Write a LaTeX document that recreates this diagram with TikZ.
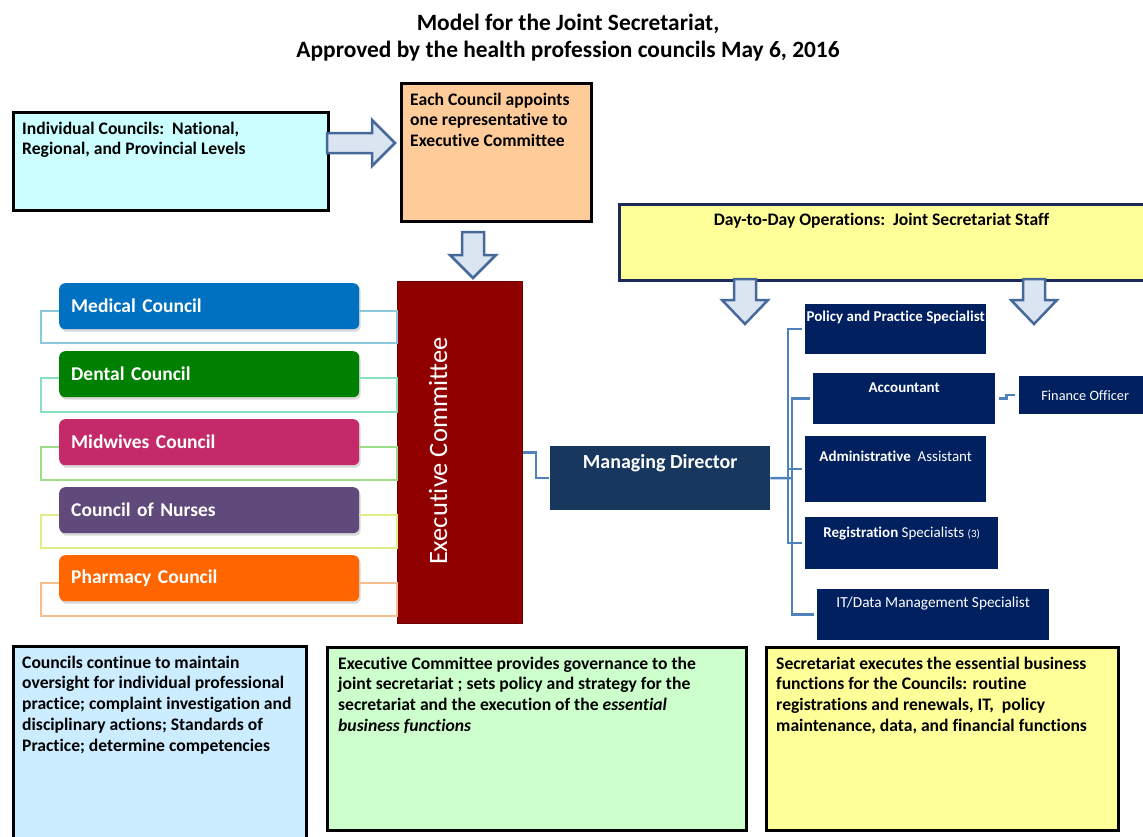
\documentclass[tikz,border=0pt]{standalone}
\usepackage{fontspec}
\setmainfont{Carlito}[RawFeature={-liga}]
\usetikzlibrary{shadows}
\definecolor{icfill}{HTML}{CCFFFF}
\definecolor{orfill}{HTML}{FFCC99}
\definecolor{exred}{HTML}{900000}
\definecolor{cmed}{HTML}{0070C0}
\definecolor{cdent}{HTML}{008000}
\definecolor{cmid}{HTML}{C42A69}
\definecolor{cnur}{HTML}{604A7B}
\definecolor{cpha}{HTML}{FF6600}
\definecolor{lmed}{HTML}{8CC8DA}
\definecolor{ldent}{HTML}{8ADFBC}
\definecolor{lmid}{HTML}{9ADF88}
\definecolor{lnur}{HTML}{E0EE88}
\definecolor{lpha}{HTML}{F4BE8E}
\definecolor{mdblue}{HTML}{17375E}
\definecolor{navy}{HTML}{002060}
\definecolor{yel}{HTML}{FFFF99}
\definecolor{yelline}{HTML}{1C2A5A}
\definecolor{blfill}{HTML}{CCECFF}
\definecolor{grfill}{HTML}{CCFFCC}
\definecolor{arrfill}{HTML}{DBE5F1}
\definecolor{arrline}{HTML}{46699A}
\definecolor{conn}{HTML}{4F81BD}
\begin{document}
\begin{tikzpicture}[x=1pt,y=-1pt,
  blk/.style={draw=black, line width=2.5pt, inner sep=0, anchor=north west},
  txt/.style={font=\fontsize{17.6}{20.9}\selectfont\bfseries, align=left, anchor=north west, inner xsep=10pt, inner ysep=10.5pt},
  cbox/.style={rounded corners=6pt, minimum width=300, minimum height=46, inner xsep=12pt, text width=276pt, align=left, text=white, font=\fontsize{19.5}{23}\selectfont\bfseries, anchor=north west, drop shadow={shadow xshift=1.5pt, shadow yshift=-2.5pt, opacity=0.3}},
  clink/.style={line width=1.3pt},
  staff/.style={fill=navy, anchor=north west, inner sep=0},
  stxt/.style={anchor=north, text=white, font=\fontsize{15}{17}\selectfont, inner sep=0},
  barrow/.style={fill=arrfill, draw=arrline, line width=2.5pt, line join=miter},
  conline/.style={draw=conn, line width=2.5pt},
]
\useasboundingbox (0,0) rectangle (1143,836);
\fill[white] (0,0) rectangle (1143,836);

% title
\node[font=\fontsize{23.4}{27}\selectfont\bfseries, align=center] (title) at (568,38)
  {Model for the Joint Secretariat,\\Approved by the health profession councils May 6, 2016};

% top boxes
\node[blk, fill=icfill, minimum width=315, minimum height=98,
  label={[txt]north west:{Individual Councils:\ \ National,\\Regional, and Provincial Levels}}] (ic) at (12,111) {};
\node[blk, fill=orfill, minimum width=190, minimum height=138,
  label={[txt]north west:{Each Council appoints\\one representative to\\Executive Committee}}] (app) at (400,82) {};

% block arrows
\draw[barrow] (327,133) -- (372,133) -- (372,120) -- (395,143) -- (372,166) -- (372,153) -- (327,153) -- cycle;
\draw[barrow] (462,232) -- (484,232) -- (484,255) -- (496,255) -- (473,278) -- (450,255) -- (462,255) -- cycle;

% executive committee
\node[fill=exred, draw=exred!75!black, line width=1pt, minimum width=125, minimum height=342, anchor=north west, inner sep=0] (exec) at (397,281) {};
\node[rotate=90, font=\fontsize{26.5}{30}\selectfont, text=white] (exect) at (438,451) {Executive Committee};

% councils
\node[cbox, fill=cmed] (med) at (59,283) {Medical Council};
\node[cbox, fill=cdent] (dent) at (59,351) {Dental Council};
\node[cbox, fill=cmid] (mid) at (59,419) {Midwives Council};
\node[cbox, fill=cnur] (nur) at (59,487) {Council of Nurses};
\node[cbox, fill=cpha] (pha) at (59,555) {Pharmacy Council};

\draw[clink, lmed] (med.west |- 0,311) -- (41,311) -- (41,343) -- (exec.west |- 0,343) -- (exec.west |- 0,311) -- (med.east |- 0,311);
\draw[clink, ldent] (dent.west |- 0,378) -- (41,378) -- (41,412) -- (exec.west |- 0,412) -- (exec.west |- 0,378) -- (dent.east |- 0,378);
\draw[clink, lmid] (mid.west |- 0,447) -- (41,447) -- (41,480) -- (exec.west |- 0,480) -- (exec.west |- 0,447) -- (mid.east |- 0,447);
\draw[clink, lnur] (nur.west |- 0,515) -- (41,515) -- (41,548) -- (exec.west |- 0,548) -- (exec.west |- 0,515) -- (nur.east |- 0,515);
\draw[clink, lpha] (pha.west |- 0,583) -- (41,583) -- (41,616) -- (exec.west |- 0,616) -- (exec.west |- 0,583) -- (pha.east |- 0,583);

% managing director
\node[fill=mdblue, minimum width=220, minimum height=64, anchor=north west, inner sep=0,
  label={[anchor=north, yshift=-5pt, text=white, font=\fontsize{20}{24}\selectfont\bfseries]north:Managing Director}] (md) at (550,446) {};
\draw[conline] (exec.east) -- ++(13,0) |- ([xshift=-1pt]md.west);

% day-to-day
\node[draw=yelline, line width=3pt, fill=yel, minimum width=532, minimum height=76, anchor=north west, inner sep=0,
  label={[anchor=north, xshift=-4pt, yshift=-7pt, font=\fontsize{17.6}{21}\selectfont\bfseries]north:{Day-to-Day Operations:\ \ Joint Secretariat Staff}}] (ops) at (618,203) {};
\draw[barrow] (734,279) -- (756,279) -- (756,300) -- (768,300) -- (745,324) -- (722,300) -- (734,300) -- cycle;
\draw[barrow] (1023,279) -- (1045,279) -- (1045,300) -- (1057,300) -- (1034,324) -- (1011,300) -- (1023,300) -- cycle;

% staff
\node[staff, minimum width=181, minimum height=50,
  label={[stxt, yshift=-7pt]north:\bfseries Policy and Practice Specialist}] (pol) at (805,304) {};
\node[staff, minimum width=182, minimum height=51,
  label={[stxt, yshift=-10pt]north:\bfseries Accountant}] (acc) at (813,373) {};
\node[staff, minimum width=132, minimum height=38, text=white, font=\fontsize{14.3}{16}\selectfont] (fin) at (1019,376) {Finance Officer};
\node[staff, minimum width=181, minimum height=66,
  label={[stxt, yshift=-15pt]north:{\bfseries Administrative}\ \ Assistant}] (adm) at (805,436) {};
\node[staff, minimum width=193, minimum height=52,
  label={[stxt, yshift=-10pt]north:{\bfseries Registration} Specialists {\fontsize{11}{12}\selectfont(3)}}] (reg) at (805,517) {};
\node[staff, minimum width=232, minimum height=51,
  label={[stxt, yshift=-8pt, font=\fontsize{15.3}{17}\selectfont]north:IT/Data Management Specialist}] (it) at (817,589) {};

\coordinate (j1) at (788,478);
\coordinate (j2) at (792,478);
\draw[conline] (md.east) -- (j2);
\draw[conline, shorten >=3pt] (j1) |- (pol.west);
\draw[conline, shorten >=3pt] (j1) |- (adm.west);
\draw[conline, shorten >=3pt] (j1) |- (reg.west);
\draw[conline, shorten >=3pt] (j2) |- (acc.west);
\draw[conline, shorten >=3pt] (j2) |- (it.west);
\draw[conline, shorten <=4pt, shorten >=4pt] (acc.east) -- ++(11,0) |- (fin.west);

% bottom boxes
\node[blk, fill=blfill, minimum width=293, minimum height=200,
  label={[txt]north west:{Councils continue to maintain\\oversight for individual professional\\practice; complaint investigation and\\disciplinary actions; Standards of\\Practice; determine competencies}}] (bl) at (12,645) {};
\node[blk, fill=grfill, minimum width=419, minimum height=183,
  label={[txt, inner xsep=12pt]north west:{Executive Committee provides governance to the\\joint secretariat ; sets policy and strategy for the\\secretariat and the execution of the \textit{essential}\\\textit{business functions}}}] (bm) at (326,646) {};
\node[blk, fill=yel, minimum width=352, minimum height=183,
  label={[txt, inner xsep=11pt]north west:{Secretariat executes the essential business\\functions for the Councils: routine\\registrations and renewals, IT,\ \ policy\\maintenance, data, and financial functions}}] (br) at (765,646) {};
\end{tikzpicture}
\end{document}
